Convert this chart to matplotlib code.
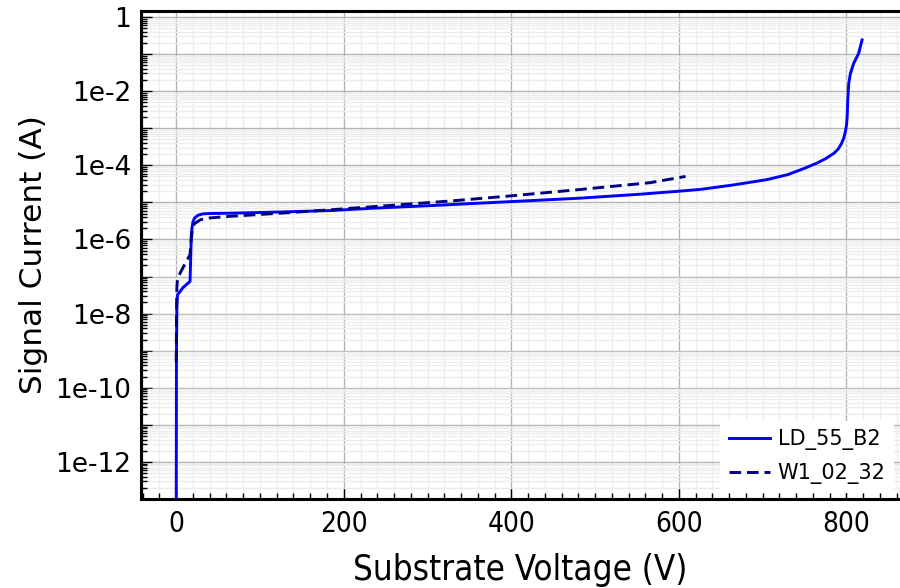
"""IV curves: signal current vs substrate voltage for two devices (log y)."""
import math

import matplotlib
matplotlib.use("Agg")
import matplotlib.pyplot as plt
from matplotlib.ticker import LogLocator, FuncFormatter, MultipleLocator, NullFormatter

# LD_55_B2 (solid)
ld_voltage = [0, 0.3, 0.8, 1.5, 8, 16.5, 17.3, 18.0, 18.8, 20, 22, 26, 32, 40, 64,
              124, 184, 232, 300, 400, 480, 554, 600, 626, 665, 705, 730, 750,
              765, 775, 785, 790, 794, 797, 799, 800.3, 801, 801.6, 802.8, 804.8,
              808.7, 814.7, 818.7]
ld_current = [1e-14, 1e-9, 1.6e-8, 3.2e-8, 5.0e-8, 7.4e-8, 3.2e-7, 1.26e-6, 2.0e-6,
              3.0e-6, 3.8e-6, 4.5e-6, 4.9e-6, 5.0e-6, 5.1e-6, 5.5e-6, 6.0e-6, 6.9e-6,
              8.1e-6, 1.05e-5, 1.29e-5, 1.66e-5, 2.0e-5, 2.24e-5, 2.95e-5, 4.1e-5,
              5.6e-5, 8.3e-5, 1.15e-4, 1.5e-4, 2.1e-4, 2.7e-4, 3.8e-4, 5.5e-4,
              8.5e-4, 1.3e-3, 2.2e-3, 5.8e-3, 1.6e-2, 3.0e-2, 5.6e-2, 0.105, 0.24]

# W1_02_32 (dashed)
w1_voltage = [0, 0.4, 0.8, 1.5, 9, 16.5, 18, 19.5, 22, 29, 40, 64, 124, 184, 263,
              330, 400, 480, 566, 608]
w1_current = [5e-10, 1e-8, 5e-8, 9e-8, 1.9e-7, 3.9e-7, 1.1e-6, 2.0e-6, 2.7e-6,
              3.4e-6, 3.8e-6, 4.2e-6, 5.1e-6, 6.3e-6, 8.5e-6, 1.1e-5, 1.5e-5,
              2.2e-5, 3.4e-5, 5.0e-5]


def _log_label(y, _pos):
    exp = int(round(math.log10(y)))
    if exp % 2:
        return ""
    return "1" if exp == 0 else f"1e{exp}"


fig = plt.figure(figsize=(9, 5.88), dpi=100)
ax = fig.add_axes([0.1567, 0.1514, 0.8433, 0.8299])

ax.plot(ld_voltage, ld_current, color="#0000ff", lw=2.1, label="LD_55_B2", zorder=3)
ax.plot(w1_voltage, w1_current, color="#000080", lw=2.1, dashes=(4, 2),
        label="W1_02_32", zorder=3)

ax.set_yscale("log")
ax.set_xlim(-42, 864)
ax.set_ylim(1e-13, 1.45)

ax.yaxis.set_major_locator(LogLocator(base=10, numticks=20))
ax.yaxis.set_minor_locator(LogLocator(base=10, subs=range(2, 10), numticks=20))
ax.yaxis.set_major_formatter(FuncFormatter(_log_label))
ax.yaxis.set_minor_formatter(NullFormatter())
ax.xaxis.set_major_locator(MultipleLocator(200))
ax.xaxis.set_minor_locator(MultipleLocator(20))

ax.grid(which="major", color="#b4b4b4", lw=1)
ax.grid(which="minor", color="#ededed", lw=1)
ax.set_axisbelow(True)

ax.tick_params(which="both", direction="in", top=False, right=False)
ax.tick_params(which="major", length=8, width=1)
ax.tick_params(which="minor", length=4, width=1)
ax.tick_params(axis="y", labelsize=19, pad=7)
ax.tick_params(axis="x", labelsize=20, pad=8)
for lab in ax.get_xticklabels():
    lab.set_fontstretch("condensed")

for side in ("top", "left", "bottom"):
    ax.spines[side].set_linewidth(2.2)
ax.spines["right"].set_visible(False)

ax.set_xlabel("Substrate Voltage (V)", fontsize=25, labelpad=11, fontstretch="condensed")
ax.set_ylabel("Signal Current (A)", fontsize=22.5, labelpad=5)

leg = ax.legend(loc="lower right", fontsize=15, frameon=True, fancybox=False,
                framealpha=1, edgecolor="none", borderaxespad=0.3,
                handlelength=2.0, handletextpad=0.35, borderpad=0.4,
                labelspacing=0.65)
leg.get_frame().set_linewidth(0)

fig.savefig("out.png", dpi=100)
